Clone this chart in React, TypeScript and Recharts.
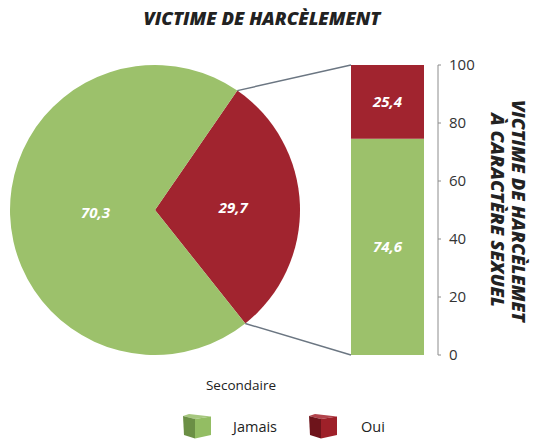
import { PieChart, Pie, Cell, BarChart, Bar, XAxis, YAxis, LabelList } from 'recharts';

const pieLabels = ['Oui', 'Jamais'];
const pieValues = [29.7, 70.3];
const barCategories = ['Secondaire'];
const barJamais = [74.6];
const barOui = [25.4];
const yTicks = [0, 20, 40, 60, 80, 100];

const GREEN = '#9CC16B';
const RED = '#A1242F';
const LINE = '#6B7682';
const FONT = '"Open Sans", sans-serif';

const pieData = pieLabels.map((name, i) => ({ name, value: pieValues[i] }));
const barData = barCategories.map((name, i) => ({ name, jamais: barJamais[i], oui: barOui[i] }));

const CX = 155;
const CY = 210;
const R = 145;
const START = -51.5;
const BAR_TOP = 65;
const BAR_BOTTOM = 355;
const BAR_LEFT = 351;

const fmt = (v: number) => v.toFixed(1).replace('.', ',');

function pieLabel(props: any) {
  const { cx, cy, midAngle, outerRadius, value, index } = props;
  const r = outerRadius * (index === 0 ? 0.54 : 0.41);
  const rad = (-midAngle * Math.PI) / 180;
  return (
    <text
      x={cx + r * Math.cos(rad)}
      y={cy + r * Math.sin(rad)}
      fill="#fff"
      fontFamily={FONT}
      fontSize={15}
      fontWeight={700}
      fontStyle="italic"
      textAnchor="middle"
      dominantBaseline="central"
    >
      {fmt(value)}
    </text>
  );
}

function sectorPath(cx: number, cy: number, r: number, startAngle: number, endAngle: number) {
  const a0 = (-startAngle * Math.PI) / 180;
  const a1 = (-endAngle * Math.PI) / 180;
  const large = Math.abs(endAngle - startAngle) > 180 ? 1 : 0;
  const p0 = [cx + r * Math.cos(a0), cy + r * Math.sin(a0)];
  const p1 = [cx + r * Math.cos(a1), cy + r * Math.sin(a1)];
  return { d: `M${cx},${cy} L${p0[0]},${p0[1]} A${r},${r} 0 ${large} 0 ${p1[0]},${p1[1]} Z`, p0, p1 };
}

// sector shape; the "Oui" slice also draws the connector lines to the bar corners
function Sector(props: any) {
  const { cx, cy, outerRadius, startAngle, endAngle, fill, index } = props;
  const { d, p0, p1 } = sectorPath(cx, cy, outerRadius, startAngle, endAngle);
  return (
    <g>
      <path d={d} fill={fill} />
      {index === 0 && (
        <>
          <line x1={p1[0]} y1={p1[1]} x2={BAR_LEFT} y2={BAR_TOP} stroke={LINE} strokeWidth={1.5} />
          <line x1={p0[0]} y1={p0[1]} x2={BAR_LEFT} y2={BAR_BOTTOM} stroke={LINE} strokeWidth={1.5} />
        </>
      )}
    </g>
  );
}

function Cube({ front, side, top }: { front: string; side: string; top: string }) {
  return (
    <svg width={28} height={25} style={{ display: 'block' }}>
      <polygon points="0,2 6,0 28,2.5 12,5" fill={top} />
      <polygon points="0,2 12,5 12,24.5 1,21" fill={side} />
      <polygon points="12,5 28,2.5 28,21 12,24.5" fill={front} />
    </svg>
  );
}

export default function App() {
  return (
    <div style={{ position: 'absolute', left: 0, top: 0, width: 533, height: 441, background: '#fff', fontFamily: FONT }}>
      <div style={{ position: 'absolute', left: 0, top: 0 }}>
        <PieChart width={533} height={441} margin={{ top: 0, right: 0, bottom: 0, left: 0 }}>
          <Pie
            data={pieData}
            dataKey="value"
            nameKey="name"
            cx={CX}
            cy={CY}
            outerRadius={R}
            startAngle={START}
            endAngle={START + 360}
            stroke="none"
            isAnimationActive={false}
            label={pieLabel}
            labelLine={false}
            shape={(p: any) => <Sector {...p} />}
          >
            {pieData.map((d, i) => (
              <Cell key={d.name} fill={i === 0 ? RED : GREEN} />
            ))}
          </Pie>
        </PieChart>
      </div>
      <div style={{ position: 'absolute', left: 0, top: 0 }}>
        <BarChart
          width={533}
          height={441}
          data={barData}
          margin={{ top: BAR_TOP, right: 45, bottom: 441 - BAR_BOTTOM, left: BAR_LEFT }}
          barCategoryGap={0}
        >
          <XAxis dataKey="name" height={0} tick={false} tickLine={false} axisLine={{ stroke: '#A6A6A6' }} padding={{ left: 0, right: 14 }} />
          <YAxis
            orientation="right"
            domain={[0, 100]}
            ticks={yTicks}
            width={50}
            tickSize={3}
            axisLine={{ stroke: '#8C8C8C' }}
            tickLine={{ stroke: '#8C8C8C' }}
            tick={{ fill: '#333', fontSize: 15, fontFamily: FONT }}
            tickMargin={8}
          />
          <Bar dataKey="jamais" stackId="a" fill={GREEN} isAnimationActive={false}>
            <LabelList dataKey="jamais" position="center" formatter={(v: any) => fmt(v)} fill="#fff" fontSize={15} fontWeight={700} fontStyle="italic" fontFamily={FONT} />
          </Bar>
          <Bar dataKey="oui" stackId="a" fill={RED} isAnimationActive={false}>
            <LabelList dataKey="oui" position="center" formatter={(v: any) => fmt(v)} fill="#fff" fontSize={15} fontWeight={700} fontStyle="italic" fontFamily={FONT} />
          </Bar>
        </BarChart>
      </div>
      <svg width={533} height={441} style={{ position: 'absolute', left: 0, top: 0, pointerEvents: 'none' }}>
        <text x={262} y={25} textAnchor="middle" fontFamily={FONT} fontSize={18} fontWeight={800} fontStyle="italic" fill="#222" textLength={237} lengthAdjust="spacingAndGlyphs">
          VICTIME DE HARCÈLEMENT
        </text>
        <g transform="translate(512,211) rotate(90)" fontFamily={FONT} fontSize={18} fontWeight={800} fontStyle="italic" fill="#222">
          <text x={-111} y={0} textLength={222} lengthAdjust="spacingAndGlyphs">VICTIME DE HARCÈLEMET</text>
          <text x={-98} y={21} textLength={194} lengthAdjust="spacingAndGlyphs">À CARACTÈRE SEXUEL</text>
        </g>
        <text x={241} y={390} textAnchor="middle" fontFamily={FONT} fontSize={13.5} fill="#222">
          Secondaire
        </text>
      </svg>
      <div style={{ position: 'absolute', left: 183, top: 414, display: 'flex', alignItems: 'center', fontSize: 14.5, color: '#222' }}>
        <Cube front="#93BD63" side="#6B8F45" top="#A6C77F" />
        <span style={{ marginLeft: 22 }}>Jamais</span>
        <span style={{ width: 32 }} />
        <Cube front="#9E2029" side="#6E141B" top="#B2434B" />
        <span style={{ marginLeft: 24 }}>Oui</span>
      </div>
    </div>
  );
}
